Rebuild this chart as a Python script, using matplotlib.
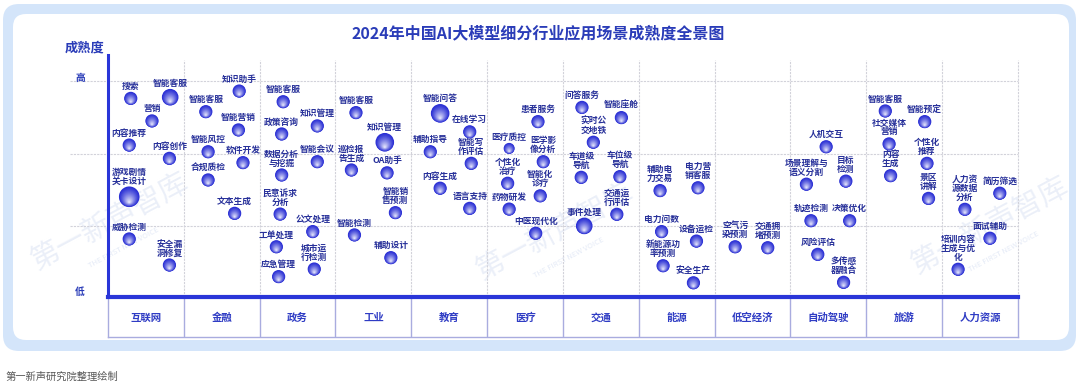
import numpy as np
import matplotlib
matplotlib.use('Agg')
import matplotlib.pyplot as plt
from matplotlib.patches import FancyBboxPatch, Polygon
from matplotlib.colors import to_rgb

plt.rcParams['font.family'] = ['Noto Sans CJK SC', 'DejaVu Sans']

# ---- data ----
INDUSTRIES = ['互联网', '金融', '政务', '工业', '教育', '医疗',
              '交通', '能源', '低空经济', '自动驾驶', '旅游', '人力资源']

SCENES = [
    # 互联网
    '搜索', '智能客服', '营销', '内容推荐', '内容创作', '游戏剧情\n关卡设计', '威胁检测', '安全漏\n洞修复',
    # 金融
    '知识助手', '智能客服', '智能营销', '智能风控', '软件开发', '合规质检', '文本生成',
    # 政务
    '智能客服', '知识管理', '政策咨询', '智能会议', '数据分析\n与挖掘', '民意诉求\n分析',
    '公文处理', '工单处理', '城市运\n行检测', '应急管理',
    # 工业
    '智能客服', '知识管理', '巡检报\n告生成', 'OA助手', '智能销\n售预测', '智能检测', '辅助设计',
    # 教育
    '智能问答', '在线学习', '辅助指导', '智能写\n作评估', '内容生成', '语言支持',
    # 医疗
    '患者服务', '医疗质控', '医学影\n像分析', '个性化\n治疗', '智能化\n诊疗', '药物研发', '中医现代化',
    # 交通
    '问答服务', '智能座舱', '实时公\n交地铁', '车道级\n导航', '车位级\n导航', '交通运\n行评估', '事件处理',
    # 能源
    '辅助电\n力交易', '电力营\n销客服', '电力问数', '设备运检', '新能源功\n率预测', '安全生产',
    # 低空经济
    '空气污\n染预测', '交通拥\n堵预测',
    # 自动驾驶
    '人机交互', '场景理解与\n语义分割', '目标\n检测', '轨迹检测', '决策优化', '风险评估', '多传感\n器融合',
    # 旅游
    '智能客服', '智能预定', '社交媒体\n营销', '个性化\n推荐', '内容\n生成', '景区\n讲解',
    # 人力资源
    '人力资\n源数据\n分析', '简历筛选', '面试辅助', '培训内容\n生成与优\n化',
]

SCENE_IND = ([0] * 8 + [1] * 7 + [2] * 10 + [3] * 7 + [4] * 6 + [5] * 7 +
             [6] * 7 + [7] * 6 + [8] * 2 + [9] * 7 + [10] * 6 + [11] * 4)

# position inside the industry column (0..1)
SCENE_X = [
    0.30, 0.82, 0.58, 0.28, 0.81, 0.28, 0.28, 0.81,
    0.73, 0.29, 0.72, 0.32, 0.78, 0.32, 0.67,
    0.31, 0.76, 0.29, 0.76, 0.29, 0.27, 0.70, 0.22, 0.72, 0.25,
    0.27, 0.65, 0.21, 0.68, 0.79, 0.25, 0.73,
    0.38, 0.77, 0.25, 0.79, 0.38, 0.77,
    0.67, 0.29, 0.74, 0.27, 0.70, 0.29, 0.64,
    0.25, 0.77, 0.40, 0.24, 0.75, 0.71, 0.28,
    0.28, 0.78, 0.30, 0.76, 0.32, 0.72,
    0.27, 0.70,
    0.47, 0.21, 0.73, 0.27, 0.78, 0.36, 0.70,
    0.25, 0.77, 0.30, 0.80, 0.32, 0.82,
    0.30, 0.76, 0.63, 0.21,
]

MATURITY = [
    8.38, 8.43, 7.43, 6.41, 5.85, 4.23, 2.45, 1.35,
    8.69, 7.82, 7.05, 6.13, 5.67, 4.94, 3.53,
    8.24, 7.22, 6.88, 5.71, 5.15, 3.50, 2.76, 2.12, 1.18, 0.86,
    7.78, 6.53, 5.36, 5.24, 3.56, 2.62, 1.66,
    7.75, 6.97, 6.13, 5.64, 4.59, 3.74,
    7.40, 6.27, 5.71, 4.80, 4.27, 3.71, 2.69,
    8.00, 7.57, 6.53, 5.05, 5.08, 3.49, 3.00,
    4.49, 4.61, 2.76, 2.36, 1.32, 0.60,
    2.12, 2.08,
    6.34, 4.76, 4.89, 3.22, 3.22, 1.80, 0.62,
    7.85, 7.40, 6.46, 5.64, 5.12, 4.16,
    3.70, 4.38, 2.48, 1.17,
]

# bubble size class: 0 small, 1 normal, 2 medium, 3 large, 4 extra large
SIZE = [
    1, 2, 1, 1, 1, 4, 1, 1,
    1, 1, 1, 1, 1, 1, 1,
    1, 1, 1, 1, 1, 1, 1, 1, 1, 1,
    1, 3, 1, 1, 1, 1, 1,
    3, 1, 1, 1, 1, 1,
    1, 0, 1, 1, 1, 1, 1,
    1, 1, 1, 1, 1, 1, 2,
    1, 1, 1, 1, 1, 1,
    1, 1,
    1, 1, 1, 1, 1, 1, 1,
    1, 1, 1, 1, 1, 1,
    1, 1, 1, 1,
]

# ---- layout ----
W, H = 1080, 390
PX_PER_Y = 23.7
R_PX = {0: 5.5, 1: 6.6, 2: 8.3, 3: 9.3, 4: 10.3}

TITLE_C = '#2a3cb8'
AXIS_C = '#2a36d8'
LABEL_C = '#28319a'

fig = plt.figure(figsize=(W / 100, H / 100), dpi=100)

# background panel in pixel coordinates
bg = fig.add_axes([0, 0, 1, 1], zorder=0)
bg.set_xlim(0, W)
bg.set_ylim(H, 0)
bg.axis('off')
bg.add_patch(FancyBboxPatch((3, 4), 1073, 347, boxstyle='round,pad=0,rounding_size=16',
                            fc='#d4e5fa', ec='none'))
bg.add_patch(FancyBboxPatch((13, 14), 1056, 326, boxstyle='round,pad=0,rounding_size=13',
                            fc='white', ec='none'))

# faint watermarks
for wx, wy in [(110, 222), (555, 232), (990, 226)]:
    bg.text(wx, wy, '第一新声智库', fontsize=21, color='#bccbea', alpha=0.3,
            rotation=28, ha='center', va='center', fontweight='light')
    bg.text(wx + 14, wy + 26, 'THE FIRST NEW VOICE', fontsize=5.5, color='#bccbea',
            alpha=0.4, rotation=28, ha='center', va='center')

# maturity arrow with gradient
ax_x = 81
arrow = Polygon([(ax_x, 96), (ax_x + 6.5, 107), (ax_x + 2.6, 107), (ax_x + 2.6, 235),
                 (ax_x + 6.5, 235), (ax_x, 247), (ax_x - 6.5, 235), (ax_x - 2.6, 235),
                 (ax_x - 2.6, 107), (ax_x - 6.5, 107)], closed=True, fc='none', ec='none')
bg.add_patch(arrow)
top_c, bot_c = np.array(to_rgb('#2f40d6')), np.array(to_rgb('#b7c0f0'))
tt = np.linspace(0, 1, 200)[:, None, None]
grad = top_c * (1 - tt) + bot_c * tt
im = bg.imshow(grad, extent=(ax_x - 7, ax_x + 7, 247, 96), origin='upper',
               aspect='auto', interpolation='bilinear')
im.set_clip_path(arrow)

# main chart axes
ax = fig.add_axes([108 / W, (H - 297) / H, 910 / W, 242 / H], zorder=2)
ax.set_facecolor('none')
ax.set_xlim(0, len(INDUSTRIES))
ax.set_ylim(0, 242 / PX_PER_Y)
ax.set_xticks([])
ax.set_yticks([])
for s in ['top', 'right']:
    ax.spines[s].set_visible(False)
ax.spines['left'].set_color(AXIS_C)
ax.spines['left'].set_linewidth(2.2)
ax.spines['bottom'].set_color(AXIS_C)
ax.spines['bottom'].set_linewidth(3.0)

grid_top = (297 - 60) / PX_PER_Y
ax.vlines(np.arange(1, len(INDUSTRIES) + 1), 0, grid_top, colors='#d2d2da',
          linestyles=(0, (2, 1)), linewidth=0.8, clip_on=False, zorder=1)
for gy in [3.0, 6.05, 9.1]:
    ax.plot([-38 / 75.83, len(INDUSTRIES)], [gy, gy], color='#d2d2da',
            ls=(0, (2, 1)), lw=0.8, clip_on=False, zorder=1)

# bubbles drawn as stacked circles -> sphere look
xs = np.array(SCENE_IND) + np.array(SCENE_X)
ys = np.array(MATURITY)
rs = np.array([R_PX[s] for s in SIZE])
blue = np.array(to_rgb('#2a2fd4'))
light = np.array(to_rgb('#f4f5ff'))
n_layers = 16
for k in range(n_layers):
    f = 1 - k / n_layers
    t = (1 - f) ** 1.2
    col = blue * (1 - t) + light * t
    r = rs * f
    shift = (rs - r) * 0.55 / PX_PER_Y
    ax.scatter(xs, ys - shift, s=(2 * r * 0.72) ** 2, color=col, lw=0,
               zorder=3, clip_on=False)

for name, x, y, r in zip(SCENES, xs, ys, rs):
    ax.annotate(name, (x, y), xytext=(0, r * 0.72 + 0.6), textcoords='offset points',
                ha='center', va='bottom', fontsize=6.3, fontweight='bold',
                color=LABEL_C, linespacing=1.0, zorder=4, annotation_clip=False)

# industry row
cat = fig.add_axes([108 / W, (H - 337) / H, 910 / W, 40 / H], zorder=1)
cat.set_xlim(0, len(INDUSTRIES))
cat.set_ylim(0, 1)
cat.set_xticks([])
cat.set_yticks([])
cat.set_facecolor('none')
for s in cat.spines.values():
    s.set_color('#a9acdf')
    s.set_linewidth(1.0)
cat.vlines(np.arange(1, len(INDUSTRIES)), 0, 1, colors='#a9acdf', linewidth=1.0)
for i, name in enumerate(INDUSTRIES):
    cat.text(i + 0.5, 0.48, name, ha='center', va='center', fontsize=7.5,
             fontweight='bold', color='#2f3cc4')

# texts
fig.text(538 / W, 1 - 33 / H, '2024年中国AI大模型细分行业应用场景成熟度全景图',
         ha='center', va='center', fontsize=11.5, fontweight='bold', color=TITLE_C)
fig.text(85 / W, 1 - 47 / H, '成熟度', ha='center', va='center', fontsize=9.5,
         fontweight='bold', color=TITLE_C)
fig.text(80 / W, 1 - 78 / H, '高', ha='center', va='center', fontsize=7,
         fontweight='bold', color=TITLE_C)
fig.text(80 / W, 1 - 292 / H, '低', ha='center', va='center', fontsize=7,
         fontweight='bold', color=TITLE_C)
fig.text(5 / W, 1 - 377 / H, '第一新声研究院整理绘制', ha='left', va='center',
         fontsize=7.4, color='#555555')

fig.savefig('out.png', dpi=100)
